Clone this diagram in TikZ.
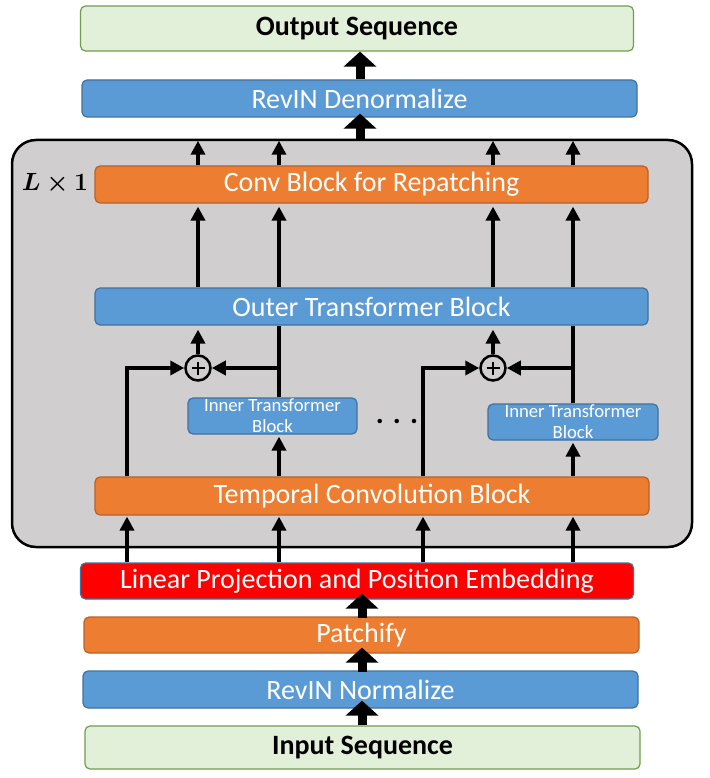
\documentclass[tikz,border=0pt]{standalone}
\usepackage{fontspec}
\setmainfont{Carlito}
\usepackage{bm}
\usetikzlibrary{arrows.meta}
\definecolor{gfill}{HTML}{E2F0D9}
\definecolor{gdraw}{HTML}{6E9E4C}
\definecolor{bfill}{HTML}{5B9BD5}
\definecolor{bdraw}{HTML}{41719C}
\definecolor{ofill}{HTML}{ED7D31}
\definecolor{odraw}{HTML}{B8612A}
\definecolor{cfill}{HTML}{D0CECE}
\begin{document}
\begin{tikzpicture}[x=1pt,y=-1pt,
  box/.style={rounded corners=5pt, line width=1.2pt, inner sep=0pt, font=\fontsize{28}{30}\selectfont, text=white},
  seqbox/.style={box, fill=gfill, draw=gdraw, text=black, font=\fontsize{28}{30}\selectfont\bfseries},
  bluebox/.style={box, fill=bfill, draw=bdraw},
  orangebox/.style={box, fill=ofill, draw=odraw},
  redbox/.style={box, fill=red, draw=bdraw},
  innerbox/.style={bluebox, font=\fontsize{18.7}{21}\selectfont, align=center},
  bigarrow/.style={line width=9pt, -{Triangle[width=32pt,length=15pt]}},
  thinarrow/.style={line width=4pt, -{Triangle[width=14pt,length=14pt]}},
  thinline/.style={line width=4pt},
  plus/.style={circle, draw=black, line width=2.5pt, minimum size=25pt, inner sep=0pt,
    path picture={\draw[line width=1.4pt] ([xshift=-6.5pt]path picture bounding box.center) -- ([xshift=6.5pt]path picture bounding box.center);
                  \draw[line width=1.4pt] ([yshift=-6.5pt]path picture bounding box.center) -- ([yshift=6.5pt]path picture bounding box.center);}}
]
\useasboundingbox (0,0) rectangle (709,778);

% container
\node[draw=black, fill=cfill, line width=2.5pt, rounded corners=24pt, minimum width=680pt, minimum height=407pt, inner sep=0pt] (cont) at (352,343.5) {};
\node[font=\fontsize{23}{23}\selectfont] (lab) at (55,184) {$\bm{L\times 1}$};

% boxes
\node[seqbox, minimum width=553pt, minimum height=45pt] (out) at (357,28.5) {Output Sequence};
\node[bluebox, minimum width=555pt, minimum height=37pt] (revd) at (359.5,98.5) {RevIN Denormalize};
\node[orangebox, minimum width=553pt, minimum height=37pt] (conv) at (371.5,184.5) {Conv Block for Repatching};
\node[bluebox, minimum width=553pt, minimum height=37pt] (outer) at (371.5,306.5) {Outer Transformer Block};
\node[innerbox, minimum width=169pt, minimum height=36pt] (innl) at (272.5,416) {Inner Transformer\\Block};
\node[innerbox, minimum width=170pt, minimum height=36pt] (innr) at (573,422) {Inner Transformer\\Block};
\node[font=\fontsize{30}{30}\selectfont\bfseries] (dots) at (397,421) {. . .};
\node[orangebox, minimum width=554pt, minimum height=38pt] (temp) at (372,496) {Temporal Convolution Block};
\node[redbox, minimum width=553pt, minimum height=36pt] (lin) at (357,581) {Linear Projection and Position Embedding};
\node[orangebox, minimum width=555pt, minimum height=36pt] (patch) at (361.5,635) {Patchify};
\node[bluebox, minimum width=555pt, minimum height=37pt] (revn) at (360.5,689.5) {RevIN Normalize};
\node[seqbox, minimum width=555pt, minimum height=43pt] (inp) at (362.5,747.5) {Input Sequence};

\node[plus] (p1) at (198,368) {};
\node[plus] (p2) at (493,368) {};

% columns
\coordinate (ca) at (127,0);
\coordinate (cb) at (279,0);
\coordinate (cc) at (423,0);
\coordinate (cd) at (573,0);
\coordinate (bx) at (362,0);
\coordinate (tx) at (360,0);

% big arrows
\draw[bigarrow] (inp.north -| bx) -- ([yshift=8pt]revn.south -| bx);
\draw[bigarrow] ([yshift=-2pt]revn.north -| bx) -- ([yshift=6pt]patch.south -| bx);
\draw[bigarrow] ([yshift=-2pt]patch.north -| bx) -- ([yshift=6pt]lin.south -| bx);
\draw[bigarrow] ([yshift=-1pt]cont.north -| tx) -- ([yshift=4pt]revd.south -| tx);
\draw[bigarrow] (revd.north -| tx) -- (out.south -| tx);

% linear -> temporal
\foreach \c in {ca,cb,cc,cd}
  \draw[thinarrow] (lin.north -| \c) -- ([yshift=-1pt]temp.south -| \c);

% temporal -> inner / plus
\draw[thinarrow] (temp.north -| cb) -- ([yshift=-2pt]innl.south -| cb);
\draw[thinarrow] (temp.north -| cd) -- ([yshift=-2pt]innr.south -| cd);
\draw[thinarrow] (temp.north -| ca) |- (p1.west);
\draw[thinarrow] (temp.north -| cc) |- (p2.west);

% inner -> outer, branches to plus
\draw[thinline] (innl.north -| cb) -- (outer.south -| cb);
\draw[thinline] (innr.north -| cd) -- (outer.south -| cd);
\draw[thinarrow] (p1 -| cb) -- (p1.east);
\draw[thinarrow] (p2 -| cd) -- (p2.east);
\draw[thinarrow] (p1.north) -- ([yshift=-4pt]outer.south -| p1);
\draw[thinarrow] (p2.north) -- ([yshift=-4pt]outer.south -| p2);

% outer -> conv, conv -> container top
\foreach \c in {p1,cb,p2,cd} {
  \draw[thinarrow] (outer.north -| \c) -- ([yshift=-3pt]conv.south -| \c);
  \draw[thinarrow] (conv.north -| \c) -- ([yshift=-2pt]cont.north -| \c);
}
\end{tikzpicture}
\end{document}
